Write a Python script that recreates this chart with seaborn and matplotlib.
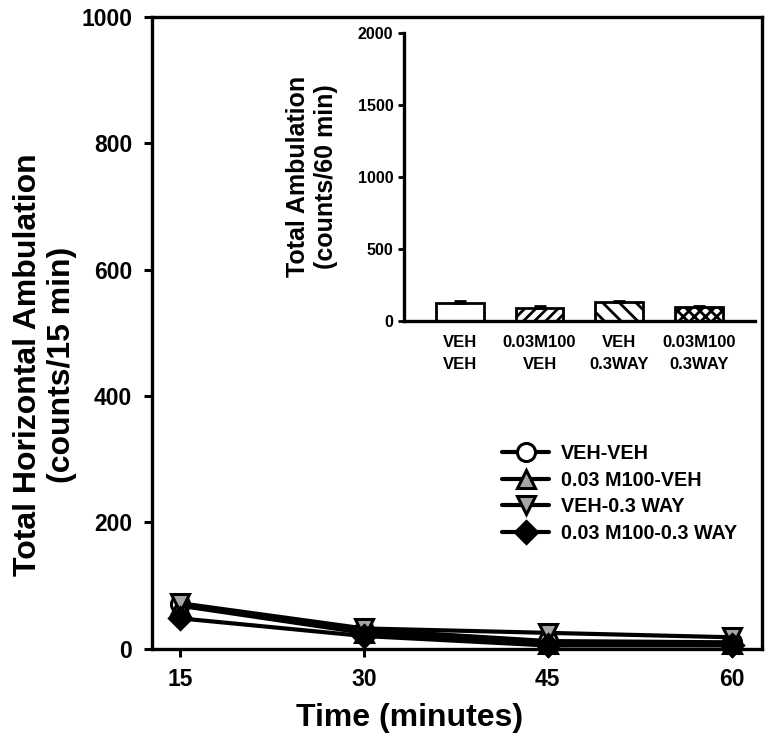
import numpy as np
import pandas as pd
import matplotlib
matplotlib.use("Agg")
import matplotlib.pyplot as plt
import seaborn as sns

# main panel: ambulation per 15 min bin
time_min = [15, 30, 45, 60]
veh_veh = [70, 30, 12, 10]
m100_veh = [68, 25, 8, 8]
veh_way = [72, 32, 25, 18]
m100_way = [48, 20, 5, 5]
group_names = ["VEH-VEH", "0.03 M100-VEH", "VEH-0.3 WAY", "0.03 M100-0.3 WAY"]

# inset: total ambulation per 60 min
bar_labels = ["VEH\nVEH", "0.03M100\nVEH", "VEH\n0.3WAY", "0.03M100\n0.3WAY"]
bar_totals = [125, 88, 130, 95]
bar_sem = [12, 15, 12, 10]

sns.set_style("ticks")
plt.rcParams["font.family"] = ["Liberation Sans", "DejaVu Sans"]
plt.rcParams["font.weight"] = "bold"
for k in ["text.color", "axes.labelcolor", "xtick.color", "ytick.color", "axes.edgecolor"]:
    plt.rcParams[k] = "black"
plt.rcParams["hatch.linewidth"] = 2

df = pd.DataFrame({
    "time": time_min * 4,
    "amb": veh_veh + m100_veh + veh_way + m100_way,
    "group": np.repeat(group_names, len(time_min)),
})

fig = plt.figure(figsize=(7.66, 7.43), dpi=100)
ax = fig.add_axes([0.198, 0.127, 0.797, 0.85])

styles = {
    "VEH-VEH": ("o", "white"),
    "0.03 M100-VEH": ("^", "#a6a6a6"),
    "VEH-0.3 WAY": ("v", "#a6a6a6"),
    "0.03 M100-0.3 WAY": ("D", "black"),
}
for g in group_names:
    mk, fc = styles[g]
    sns.lineplot(data=df[df["group"] == g], x="time", y="amb", ax=ax,
                 color="black", lw=3, marker=mk, markersize=13 if mk != "D" else 11,
                 markerfacecolor=fc, markeredgecolor="black", markeredgewidth=2.2,
                 label=g, clip_on=False)

ax.set_xlim(12.7, 62.5)
ax.set_ylim(0, 1000)
ax.set_xticks(time_min)
ax.set_yticks([0, 200, 400, 600, 800, 1000])
ax.tick_params(labelsize=16.5, width=2.2, length=6, pad=8)
for s in ax.spines.values():
    s.set_linewidth(2.4)
ax.set_xlabel("Time (minutes)", fontsize=23, fontweight="bold")
ax.set_ylabel("Total Horizontal Ambulation\n(counts/15 min)", fontsize=23,
              fontweight="bold")
ax.xaxis.set_label_coords(0.423, -0.086)
ax.yaxis.set_label_coords(-0.122, 0.45)

leg = ax.legend(loc="upper left", bbox_to_anchor=(0.545, 0.352), frameon=False,
                fontsize=14.2, handlelength=2.4, labelspacing=0.38,
                handletextpad=0.6)
for t in leg.get_texts():
    t.set_fontweight("bold")

# inset bar chart
ins = fig.add_axes([0.527, 0.568, 0.459, 0.388])
bdf = pd.DataFrame({"cond": bar_labels, "total": bar_totals})
sns.barplot(data=bdf, x="cond", y="total", ax=ins, color="white",
            edgecolor="black", linewidth=2, width=0.6, errorbar=None)
hatches = ["", "///", "\\\\", "xxx"]
for p, h in zip(ins.patches, hatches):
    p.set_hatch(h)
    p.set_facecolor("white")
ins.errorbar(range(len(bar_totals)), bar_totals, yerr=[[0] * 4, bar_sem],
             fmt="none", ecolor="black", elinewidth=2, capsize=4, capthick=2)
ins.set_xlim(-0.7, 3.7)
ins.set_ylim(0, 2000)
ins.set_yticks([0, 500, 1000, 1500, 2000])
sns.despine(ax=ins)
for s in ins.spines.values():
    s.set_linewidth(2.4)
ins.tick_params(axis="y", labelsize=11.5, width=2, length=4)
ins.tick_params(axis="x", labelsize=12, length=0, pad=10)
for t in ins.get_xticklabels():
    t.set_linespacing(1.6)
ins.set_xlabel("")
ins.set_ylabel("Total Ambulation\n(counts/60 min)", fontsize=18,
               fontweight="bold", labelpad=14)

fig.savefig("out.png", dpi=100)
